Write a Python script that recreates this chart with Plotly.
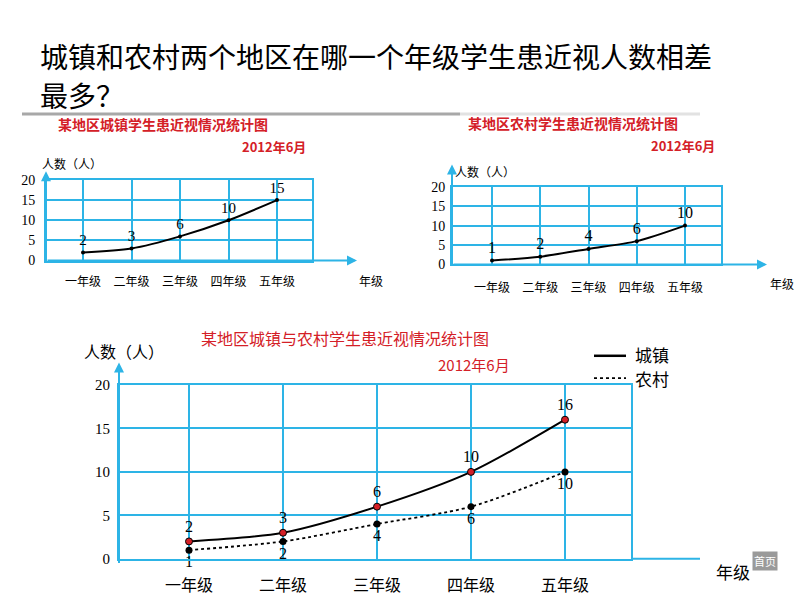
import plotly.graph_objects as go

W, H = 794, 596
def px(x): return x / W
def py(y): return 1 - y / H

grades = ["一年级", "二年级", "三年级", "四年级", "五年级"]
urban_top = [2, 3, 6, 10, 15]
rural_top = [1, 2, 4, 6, 10]
urban = [2, 3, 6, 10, 16]
rural = [1, 2, 4, 6, 10]
yticks = [0, 5, 10, 15, 20]

CYAN = "#2db4e6"
RED = "#d42027"
CJK = "Noto Sans CJK SC"
SERIF = "Liberation Serif"

fig = go.Figure()

# top-left: urban
fig.add_trace(go.Scatter(x=grades, y=urban_top, mode="lines+markers+text",
    line=dict(color="black", width=2, shape="spline", smoothing=0.8),
    marker=dict(color="black", size=4), text=[str(v) for v in urban_top],
    textposition="top center", textfont=dict(family=SERIF, size=15, color="black"),
    xaxis="x", yaxis="y", showlegend=False, cliponaxis=False))
# top-right: rural
fig.add_trace(go.Scatter(x=grades, y=rural_top, mode="lines+markers+text",
    line=dict(color="black", width=2, shape="spline", smoothing=0.8),
    marker=dict(color="black", size=4), text=[str(v) for v in rural_top],
    textposition="top center", textfont=dict(family=SERIF, size=16, color="black"),
    xaxis="x2", yaxis="y2", showlegend=False, cliponaxis=False))
# bottom: combined
fig.add_trace(go.Scatter(x=grades, y=urban, mode="lines+markers+text", name="城镇",
    line=dict(color="black", width=2, shape="spline", smoothing=0.8),
    marker=dict(color=RED, size=7, line=dict(color="black", width=1)),
    text=[str(v) for v in urban], textposition="top center",
    textfont=dict(family=SERIF, size=16, color="black"),
    xaxis="x3", yaxis="y3", showlegend=False, cliponaxis=False))
fig.add_trace(go.Scatter(x=grades, y=rural, mode="lines+markers+text", name="农村",
    line=dict(color="black", width=1.8, dash="dot", shape="spline", smoothing=0.8),
    marker=dict(color="black", size=7),
    text=[str(v) for v in rural], textposition="bottom center",
    textfont=dict(family=SERIF, size=16, color="black"),
    xaxis="x3", yaxis="y3", showlegend=False, cliponaxis=False))

def xax(x0, x1, r0, r1, anchor, fsize, standoff):
    return dict(domain=[px(x0), px(x1)], anchor=anchor, type="category",
                categoryorder="array", categoryarray=grades, range=[r0, r1],
                showgrid=True, gridcolor=CYAN, gridwidth=1.5,
                showline=True, linecolor=CYAN, linewidth=2, mirror=True,
                ticks="outside", ticklen=standoff, tickcolor="rgba(0,0,0,0)",
                tickfont=dict(family=CJK, size=fsize, color="black"),
                zeroline=False, fixedrange=True)

def yax(y0, y1, anchor, fsize, standoff):
    return dict(domain=[py(y0), py(y1)], anchor=anchor, range=[0, 20],
                tickvals=yticks, showgrid=True, gridcolor=CYAN, gridwidth=1.5,
                showline=True, linecolor=CYAN, linewidth=2, mirror=True,
                ticks="outside", ticklen=standoff, tickcolor="rgba(0,0,0,0)",
                tickfont=dict(family=SERIF, size=fsize, color="black"),
                zeroline=False, fixedrange=True)

s1 = 48.5
s2 = 48.25
s3 = 94.0
layout = dict(
    width=W, height=H, margin=dict(l=0, r=0, t=0, b=0),
    paper_bgcolor="white", plot_bgcolor="white",
    xaxis=xax(46, 312, -37 / s1, 4 + 35 / s1, "y", 12, 9),
    yaxis=yax(260, 177, "x", 14, 6),
    xaxis2=xax(452, 721, -40 / s2, 4 + 36 / s2, "y2", 12, 11),
    yaxis2=yax(264, 184, "x2", 14, 2),
    xaxis3=xax(119, 631, -70 / s3, 4 + 66 / s3, "y3", 16, 11),
    yaxis3=yax(567, 388, "x3", 15, 4),
)
fig.update_layout(**layout)

ann = []
def txt(x, y, s, size, color="black", family=CJK, bold=False, xanchor="left"):
    if bold:
        s = "<b>" + s + "</b>"
    ann.append(dict(x=px(x), y=py(y), xref="paper", yref="paper", text=s,
                    showarrow=False, xanchor=xanchor, yanchor="middle", align="left",
                    font=dict(family=family, size=size, color=color)))

def arrow(xh, yh, xt, yt):
    ann.append(dict(x=px(xh), y=py(yh), xref="paper", yref="paper", text="",
                    showarrow=True, ax=xt - xh, ay=yt - yh, axref="pixel", ayref="pixel",
                    arrowcolor=CYAN, arrowwidth=2, arrowhead=2, arrowsize=1, standoff=0))

# main question
txt(38, 49, "城镇和农村两个地区在哪一个年级学生患近视人数相差", 28)
txt(38, 90, "最多？", 28)

# chart 1 texts
txt(56, 119, "某地区城镇学生患近视情况统计图", 14, RED, bold=True)
txt(240, 143, "2012年6月", 13, RED, bold=True)
txt(40, 160, "人数（人）", 12)
txt(357, 281, "年级", 12)
arrow(46, 168, 46, 260)
arrow(357, 260, 46, 260)

# chart 2 texts
txt(466, 118, "某地区农村学生患近视情况统计图", 14, RED, bold=True)
txt(649, 142, "2012年6月", 13, RED, bold=True)
txt(453, 168, "人数（人）", 12)
txt(768, 284, "年级", 12)
arrow(452, 161, 452, 264)
arrow(767, 264, 452, 264)

# chart 3 texts
txt(199, 340, "某地区城镇与农村学生患近视情况统计图", 16, RED)
txt(436, 367, "2012年6月", 15, RED)
txt(82, 353, "人数（人）", 16)
txt(714, 580, "年级", 17)
arrow(119, 365, 119, 567)
txt(633, 357, "城镇", 17)
txt(633, 381, "农村", 17)
ann.append(dict(x=px(778), y=py(580), xref="paper", yref="paper", text="首页",
                showarrow=False, bgcolor="#9a9a9a", font=dict(family=CJK, size=11, color="white"),
                borderpad=1))

shapes = [
    dict(type="line", xref="paper", yref="paper", x0=px(22), x1=px(460), y0=py(109), y1=py(109),
         line=dict(color="#a8a8a8", width=3)),
    dict(type="line", xref="paper", yref="paper", x0=px(460), x1=px(700), y0=py(109), y1=py(109),
         line=dict(color="#e2e2e2", width=3)),
    dict(type="line", xref="paper", yref="paper", x0=px(631), x1=px(700), y0=py(567), y1=py(567),
         line=dict(color=CYAN, width=2)),
    dict(type="line", xref="paper", yref="paper", x0=px(594), x1=px(626), y0=py(358), y1=py(358),
         line=dict(color="black", width=2.5)),
    dict(type="line", xref="paper", yref="paper", x0=px(594), x1=px(626), y0=py(381), y1=py(381),
         line=dict(color="black", width=1.8, dash="dot")),
]
fig.update_layout(annotations=ann, shapes=shapes)

fig.write_html("out.html")
